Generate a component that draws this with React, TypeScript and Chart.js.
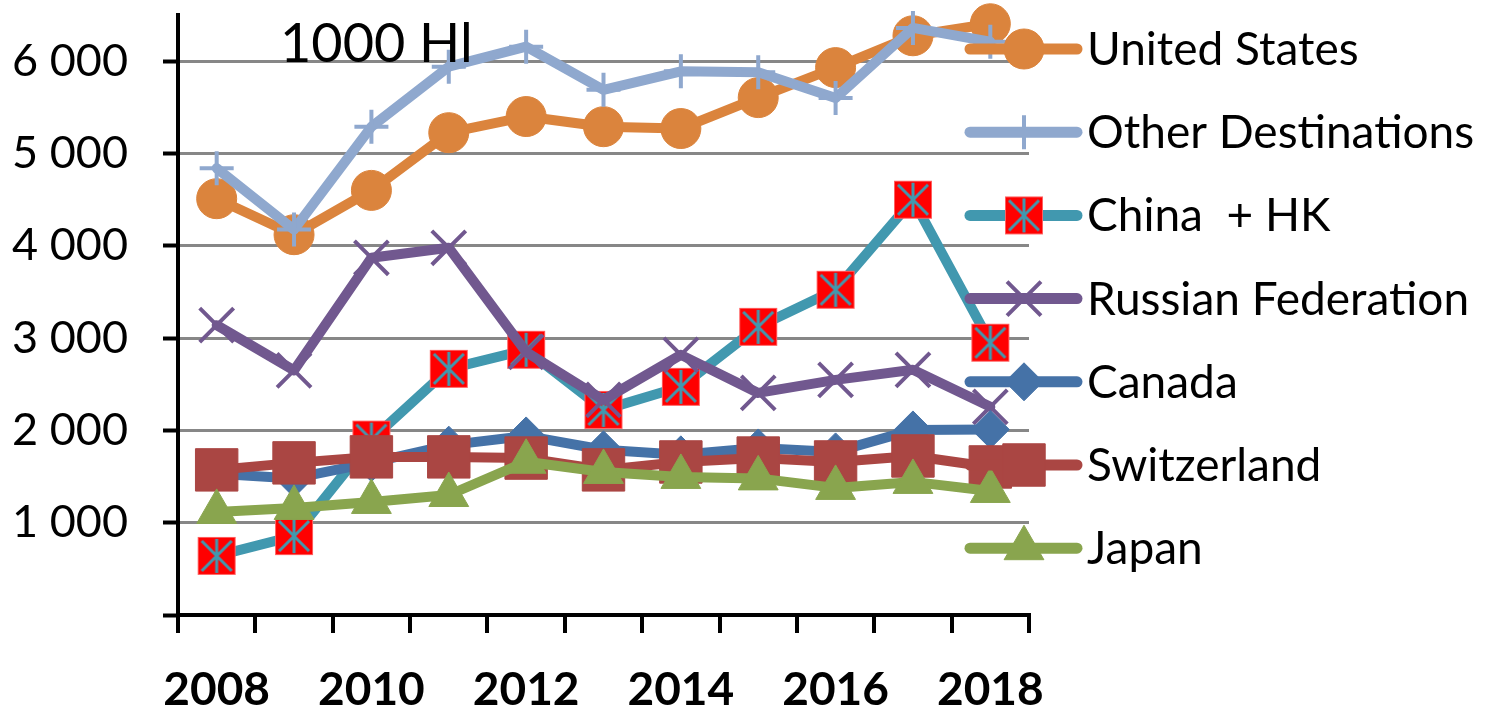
import React, { useEffect, useRef } from 'react';
import { Chart, registerables } from 'chart.js';
import { drawPoint } from 'chart.js/helpers';

Chart.register(...registerables);

const years = ['2008', '2009', '2010', '2011', '2012', '2013', '2014', '2015', '2016', '2017', '2018'];
const unitedStates = [4510, 4120, 4600, 5225, 5400, 5290, 5270, 5605, 5930, 6275, 6405];
const otherDestinations = [4840, 4175, 5290, 5940, 6157, 5690, 5890, 5880, 5600, 6360, 6210];
const chinaHK = [640, 855, 1900, 2667, 2873, 2222, 2472, 3122, 3523, 4499, 2950];
const russianFederation = [3140, 2650, 3870, 3978, 2850, 2330, 2818, 2406, 2547, 2656, 2255];
const canada = [1530, 1480, 1650, 1840, 1940, 1790, 1735, 1810, 1767, 2005, 2010];
const switzerland = [1572, 1648, 1713, 1713, 1700, 1572, 1658, 1700, 1658, 1723, 1604];
const japan = [1117, 1160, 1225, 1300, 1660, 1550, 1496, 1480, 1377, 1442, 1344];
const yTickValues = [0, 1000, 2000, 3000, 4000, 5000, 6000];
const unitLabel = '1000 Hl';

const FONT = 'Lato, "Open Sans", sans-serif';

function makeChinaMarker(): HTMLCanvasElement {
  const c = document.createElement('canvas');
  c.width = 40;
  c.height = 40;
  const g = c.getContext('2d')!;
  g.fillStyle = '#FF0000';
  g.fillRect(1, 1, 38, 38);
  g.strokeStyle = '#FF6060';
  g.lineWidth = 1;
  g.strokeRect(1.5, 1.5, 37, 37);
  g.strokeStyle = '#4198AF';
  g.lineWidth = 3;
  g.lineCap = 'butt';
  g.beginPath();
  g.moveTo(20, 3);
  g.lineTo(20, 37);
  g.moveTo(5, 5);
  g.lineTo(35, 35);
  g.moveTo(35, 5);
  g.lineTo(5, 35);
  g.stroke();
  return c;
}

const legendPlugin = {
  id: 'customLegend',
  afterDraw(chart: any) {
    const ctx = chart.ctx;
    ctx.save();
    const x0 = 970;
    const x1 = 1077;
    const mx = 1024;
    chart.data.datasets.forEach((ds: any, i: number) => {
      const y = 49 + 83.2 * i;
      ctx.strokeStyle = ds.borderColor;
      ctx.lineWidth = 11;
      ctx.lineCap = 'round';
      ctx.beginPath();
      ctx.moveTo(x0, y);
      ctx.lineTo(x1, y);
      ctx.stroke();
      ctx.fillStyle = ds.pointBackgroundColor;
      ctx.strokeStyle = ds.pointBorderColor;
      ctx.lineWidth = ds.pointBorderWidth;
      ctx.lineCap = 'butt';
      drawPoint(ctx, { pointStyle: ds.pointStyle, radius: ds.pointRadius, borderWidth: ds.pointBorderWidth, rotation: 0 } as any, mx, y);
      ctx.fillStyle = '#000000';
      ctx.font = `46px ${FONT}`;
      ctx.textAlign = 'left';
      ctx.textBaseline = 'alphabetic';
      ctx.fillText(ds.label, 1087, y + 16);
    });
    ctx.font = `54px ${FONT}`;
    ctx.fillStyle = '#000000';
    ctx.textAlign = 'left';
    ctx.textBaseline = 'alphabetic';
    ctx.fillText(unitLabel, 280, 62);
    ctx.restore();
  },
};

export default function App() {
  const ref = useRef<HTMLCanvasElement | null>(null);
  useEffect(() => {
    document.body.style.margin = '0';
    document.body.style.overflow = 'hidden';
    const chinaMarker = makeChinaMarker();
    const base = {
      borderWidth: 10,
      borderCapStyle: 'round' as const,
      borderJoinStyle: 'round' as const,
      tension: 0,
      clip: false as any,
      fill: false,
    };
    const chart = new Chart(ref.current!, {
      type: 'line',
      data: {
        labels: years,
        datasets: [
          { ...base, label: 'United States', data: unitedStates, borderColor: '#DB843D', pointBackgroundColor: '#DB843D', pointBorderColor: '#DB843D', pointBorderWidth: 1, pointStyle: 'circle', pointRadius: 20, order: 7 },
          { ...base, label: 'Other Destinations', data: otherDestinations, borderColor: '#8FA8CE', pointBackgroundColor: '#8FA8CE', pointBorderColor: '#8FA8CE', pointBorderWidth: 4, pointStyle: 'cross', pointRadius: 17, order: 6 },
          { ...base, label: 'China  + HK', data: chinaHK, borderColor: '#4198AF', pointBackgroundColor: '#FF0000', pointBorderColor: '#4198AF', pointBorderWidth: 0, pointStyle: chinaMarker as any, pointRadius: 20, order: 5 },
          { ...base, label: 'Russian Federation', data: russianFederation, borderColor: '#71588F', pointBackgroundColor: '#71588F', pointBorderColor: '#71588F', pointBorderWidth: 4, pointStyle: 'crossRot', pointRadius: 24, order: 4 },
          { ...base, label: 'Canada', data: canada, borderColor: '#4572A7', pointBackgroundColor: '#4572A7', pointBorderColor: '#4572A7', pointBorderWidth: 1, pointStyle: 'rectRot', pointRadius: 19, order: 3 },
          { ...base, label: 'Switzerland', data: switzerland, borderColor: '#AA4643', pointBackgroundColor: '#AA4643', pointBorderColor: '#AA4643', pointBorderWidth: 1, pointStyle: 'rect', pointRadius: 30, order: 2 },
          { ...base, label: 'Japan', data: japan, borderColor: '#89A54E', pointBackgroundColor: '#89A54E', pointBorderColor: '#89A54E', pointBorderWidth: 1, pointStyle: 'triangle', pointRadius: 23, order: 1 },
        ] as any,
      },
      options: {
        responsive: false,
        animation: false,
        devicePixelRatio: 1,
        layout: { autoPadding: false, padding: { top: 15, right: 463, left: 0, bottom: 0 } },
        plugins: { legend: { display: false }, tooltip: { enabled: false }, title: { display: false } },
        elements: { point: { hoverRadius: 20 } },
        scales: {
          x: {
            type: 'category',
            offset: true,
            grid: { display: true, drawOnChartArea: false, drawTicks: true, offset: true, tickLength: 18, tickColor: '#000000', tickWidth: 4, color: '#000000', lineWidth: 4 },
            border: { display: true, color: '#000000', width: 4 },
            ticks: {
              autoSkip: false,
              maxRotation: 0,
              minRotation: 0,
              padding: 30,
              color: '#000000',
              font: { family: FONT, size: 46, weight: 'bold' },
              callback: (_v: any, i: number) => (i % 2 === 0 ? years[i] : ''),
            },
            afterFit: (s: any) => {
              s.height = 96;
              s.paddingLeft = 0;
              s.paddingRight = 0;
              s.paddingTop = 0;
              s.paddingBottom = 0;
            },
          },
          y: {
            min: 0,
            max: 6500,
            grid: {
              color: (c: any) => (c.tick && c.tick.value === 0 ? '#000000' : '#878787'),
              lineWidth: 3,
              tickLength: 15,
              tickColor: '#000000',
              tickWidth: 4,
            },
            border: { display: true, color: '#000000', width: 4 },
            afterBuildTicks: (s: any) => { s.ticks = yTickValues.map((v) => ({ value: v })); },
            ticks: {
              padding: 35,
              color: '#000000',
              font: { family: FONT, size: 45 },
              callback: (v: any) => {
                const n = Number(v);
                if (n === 0) return '';
                return `${Math.floor(n / 1000)} ${String(n % 1000).padStart(3, '0')}`;
              },
            },
            afterFit: (s: any) => {
              s.width = 178;
              s.paddingTop = 0;
              s.paddingBottom = 0;
              s.paddingLeft = 0;
              s.paddingRight = 0;
            },
          },
        },
      } as any,
      plugins: [legendPlugin],
    });
    return () => chart.destroy();
  }, []);
  return (
    <div style={{ width: 1492, height: 711, background: '#ffffff' }}>
      <canvas ref={ref} width={1492} height={711} style={{ display: 'block' }} />
    </div>
  );
}
